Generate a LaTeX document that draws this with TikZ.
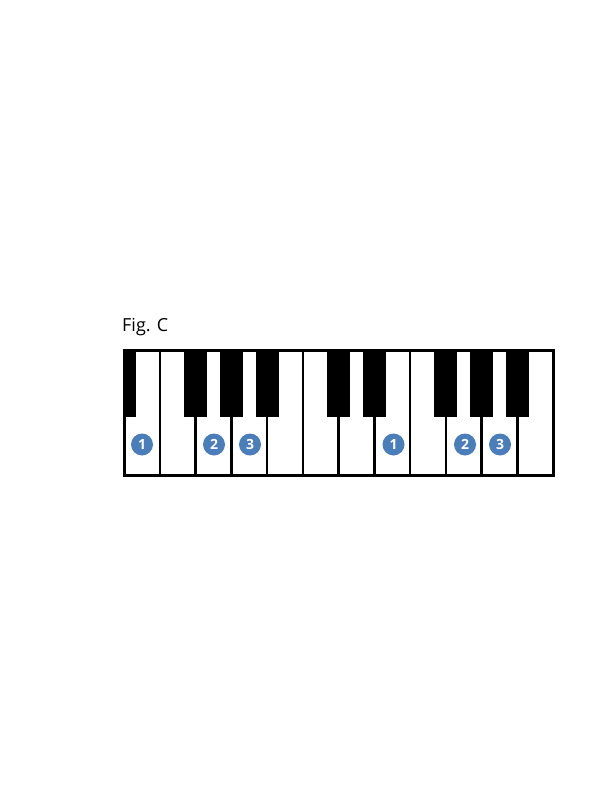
\documentclass[tikz,border=0pt]{standalone}
\usepackage{fontspec}
\setmainfont{Open Sans}
\usetikzlibrary{positioning}
\definecolor{fingerblue}{RGB}{74,126,187}
\tikzset{
  whitekey/.style={draw=black, fill=white, line width=2.5pt},
  blackkey/.style={fill=black},
  finger/.style={circle, fill=fingerblue, text=white, minimum size=22pt, inner sep=0pt, font=\fontsize{14}{14}\selectfont\bfseries},
}
\begin{document}
\begin{tikzpicture}[x=1pt,y=-1pt]
  \useasboundingbox (0,0) rectangle (612,792);
  % Title
  \node[anchor=base west, inner sep=0pt, font=\fontsize{18}{22}\selectfont] (title) at (122,331) {Fig. C};
  % White keys
  \foreach \k in {0,...,11}
    \draw[whitekey] ({124+35.75*\k},350) rectangle ({124+35.75*(\k+1)},475);
  % Black keys
  \fill[blackkey] (124,350) rectangle (135.5,417);
  \foreach \k in {2,3,4,6,7,9,10,11}
    \fill[blackkey] ({124+35.75*\k-11.5},350) rectangle ({124+35.75*\k+11.5},417);
  % Frame
  \draw[line width=3pt] (124,350) rectangle (553,475);
  % Fingers
  \node[finger] (fa1) at (142,444.5) {1};
  \node[finger] (fa2) at (214,444.5) {2};
  \node[finger] (fa3) at (250,444.5) {3};
  \node[finger] (fb1) at (393.5,444.5) {1};
  \node[finger] (fb2) at (465,444.5) {2};
  \node[finger] (fb3) at (500,444.5) {3};
\end{tikzpicture}
\end{document}
